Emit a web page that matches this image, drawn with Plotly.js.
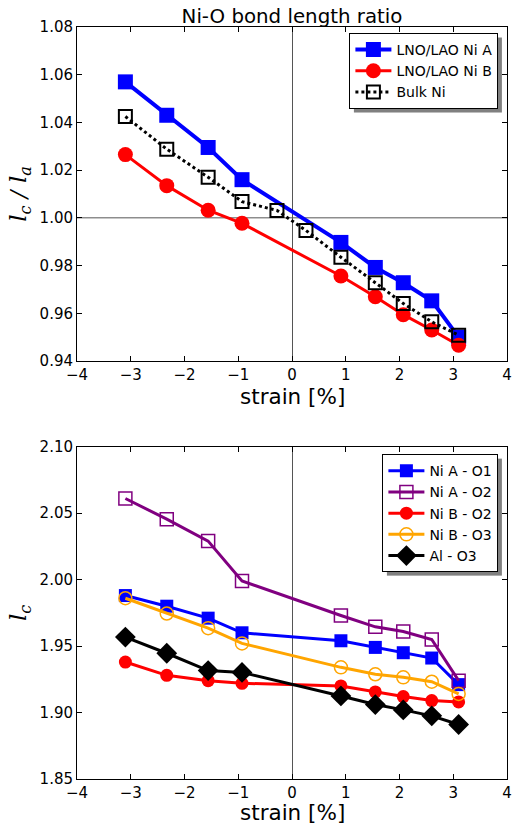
<!DOCTYPE html>
<html>
<head>
<meta charset="utf-8">
<script src="https://cdn.plot.ly/plotly-3.0.1.min.js"></script>
<style>html,body{margin:0;padding:0;background:#fff;}#plot{width:513px;height:823px;}</style>
</head>
<body>
<div id="plot"></div>
<script>
// Top panel data: Ni-O bond length ratio
const strainNi = [-3.1, -2.33, -1.56, -0.93, 0.91, 1.55, 2.07, 2.6, 3.1];
const strainBulk = [-3.1, -2.33, -1.56, -0.93, -0.28, 0.26, 0.91, 1.55, 2.07, 2.6, 3.1];
const ratioNiA = [1.057, 1.043, 1.0295, 1.016, 0.9897, 0.9792, 0.9728, 0.9652, 0.950];
const ratioNiB = [1.0265, 1.0135, 1.0032, 0.9977, 0.9756, 0.9669, 0.9594, 0.953, 0.9466];
const ratioBulk = [1.0425, 1.0288, 1.017, 1.0068, 1.0031, 0.9947, 0.9835, 0.9728, 0.9641, 0.9564, 0.9508];

// Bottom panel data: bond lengths
const niA_O1 = [1.988, 1.980, 1.971, 1.960, 1.954, 1.949, 1.945, 1.941, 1.921];
const niA_O2 = [2.061, 2.0455, 2.029, 1.999, 1.973, 1.9645, 1.961, 1.955, 1.924];
const niB_O2 = [1.938, 1.928, 1.924, 1.922, 1.920, 1.9155, 1.912, 1.909, 1.908];
const niB_O3 = [1.986, 1.9745, 1.9635, 1.952, 1.934, 1.9288, 1.9265, 1.9232, 1.914];
const al_O3 = [1.9568, 1.9446, 1.9316, 1.9302, 1.9125, 1.906, 1.902, 1.8975, 1.891];

const namesTop = ['LNO/LAO Ni A', 'LNO/LAO Ni B', 'Bulk Ni'];
const namesBot = ['Ni A - O1', 'Ni A - O2', 'Ni B - O2', 'Ni B - O3', 'Al - O3'];
const xTitle = 'strain [%]';

const F = 'DejaVu Sans, sans-serif';

const traces = [
  {x: strainNi, y: ratioNiA, name: namesTop[0], xaxis: 'x', yaxis: 'y', legend: 'legend',
   mode: 'lines+markers', line: {color: '#0000ff', width: 4},
   marker: {symbol: 'square', size: 15, color: '#0000ff'}},
  {x: strainNi, y: ratioNiB, name: namesTop[1], xaxis: 'x', yaxis: 'y', legend: 'legend',
   mode: 'lines+markers', line: {color: '#ff0000', width: 3},
   marker: {symbol: 'circle', size: 15, color: '#ff0000'}},
  {x: strainBulk, y: ratioBulk, name: namesTop[2], xaxis: 'x', yaxis: 'y', legend: 'legend',
   mode: 'lines+markers', line: {color: '#000000', width: 3, dash: 'dot'},
   marker: {symbol: 'square-open', size: 13, color: '#000000', line: {width: 2}}},

  {x: strainNi, y: niA_O1, name: namesBot[0], xaxis: 'x2', yaxis: 'y2', legend: 'legend2',
   mode: 'lines+markers', line: {color: '#0000ff', width: 3},
   marker: {symbol: 'square', size: 13, color: '#0000ff'}},
  {x: strainNi, y: niA_O2, name: namesBot[1], xaxis: 'x2', yaxis: 'y2', legend: 'legend2',
   mode: 'lines+markers', line: {color: '#800080', width: 3},
   marker: {symbol: 'square-open', size: 13, color: '#800080', line: {width: 1.5}}},
  {x: strainNi, y: niB_O2, name: namesBot[2], xaxis: 'x2', yaxis: 'y2', legend: 'legend2',
   mode: 'lines+markers', line: {color: '#ff0000', width: 3},
   marker: {symbol: 'circle', size: 13, color: '#ff0000'}},
  {x: strainNi, y: niB_O3, name: namesBot[3], xaxis: 'x2', yaxis: 'y2', legend: 'legend2',
   mode: 'lines+markers', line: {color: '#ffa500', width: 3},
   marker: {symbol: 'circle-open', size: 13, color: '#ffa500', line: {width: 1.5}}},
  {x: strainNi, y: al_O3, name: namesBot[4], xaxis: 'x2', yaxis: 'y2', legend: 'legend2',
   mode: 'lines+markers', line: {color: '#000000', width: 3},
   marker: {symbol: 'diamond', size: 16, color: '#000000'}}
];

const xax = (anchor) => ({
  domain: [0, 1], anchor: anchor, range: [-4, 4], dtick: 1, tick0: 0,
  ticks: 'inside', ticklen: 5, tickcolor: '#000', mirror: 'allticks',
  showline: true, linecolor: '#000', linewidth: 1, showgrid: false,
  zeroline: true, zerolinecolor: '#555', zerolinewidth: 1,
  tickfont: {family: F, size: 15, color: '#000'}
});

const yTitleFont = {family: 'DejaVu Serif, serif', size: 23, color: '#000'};
const TOPDOM = [0.5559, 1], BOTDOM = [0, 0.4419];

const layout = {
  width: 513, height: 823,
  margin: {l: 77, r: 6, t: 27, b: 44},
  paper_bgcolor: '#fff', plot_bgcolor: '#fff',
  font: {family: F, color: '#000'},
  title: {text: 'Ni-O bond length ratio', font: {family: F, size: 19.8, color: '#000'},
          xref: 'paper', x: 0.5, xanchor: 'center', yref: 'container', y: 0.981, yanchor: 'middle'},
  xaxis: xax('y'),
  xaxis2: xax('y2'),
  yaxis: {
    domain: TOPDOM, anchor: 'x', range: [0.94, 1.08], dtick: 0.02, tick0: 0.94, tickformat: '.2f',
    ticks: 'inside', ticklen: 5, tickcolor: '#000', mirror: 'allticks',
    showline: true, linecolor: '#000', linewidth: 1, showgrid: false, zeroline: false,
    tickfont: {family: F, size: 15, color: '#000'},
    title: {text: '<i>l<sub>c</sub> / l<sub>a</sub></i>', font: yTitleFont, standoff: 6}
  },
  yaxis2: {
    domain: BOTDOM, anchor: 'x2', range: [1.85, 2.10], dtick: 0.05, tick0: 1.85, tickformat: '.2f',
    ticks: 'inside', ticklen: 5, tickcolor: '#000', mirror: 'allticks',
    showline: true, linecolor: '#000', linewidth: 1, showgrid: false, zeroline: false,
    tickfont: {family: F, size: 15, color: '#000'},
    title: {text: '<i>l<sub>c</sub></i>', font: yTitleFont, standoff: 6}
  },
  annotations: [
    {text: xTitle, xref: 'paper', yref: 'paper', x: 0.5, y: TOPDOM[0], xanchor: 'center', yanchor: 'middle',
     yshift: -35.5, showarrow: false, font: {family: F, size: 21.5, color: '#000'}},
    {text: xTitle, xref: 'paper', yref: 'paper', x: 0.5, y: BOTDOM[0], xanchor: 'center', yanchor: 'middle',
     yshift: -33, showarrow: false, font: {family: F, size: 21.5, color: '#000'}}
  ],
  shapes: [
    {type: 'line', xref: 'x domain', yref: 'y', x0: 0, x1: 1, y0: 1, y1: 1,
     line: {color: '#555', width: 1}, layer: 'below'}
  ],
  legend: {
    x: 0.98, y: 0.992, xanchor: 'right', yanchor: 'top', xref: 'paper', yref: 'paper',
    bgcolor: '#fff', bordercolor: '#000', borderwidth: 1,
    font: {family: F, size: 14, color: '#000'}, tracegroupgap: 0, itemwidth: 36
  },
  legend2: {
    x: 0.98, y: 0.432, xanchor: 'right', yanchor: 'top', xref: 'paper', yref: 'paper',
    bgcolor: '#fff', bordercolor: '#000', borderwidth: 1,
    font: {family: F, size: 14, color: '#000'}, tracegroupgap: 0, itemwidth: 36
  },
  showlegend: true
};

const SVGNS = 'http://www.w3.org/2000/svg';
function addShadows(gd) {
  // matplotlib-like drop shadow behind each legend box: a gray rect copy offset down-right
  gd.querySelectorAll('rect.bg').forEach(function (bg) {
    if (bg.closest('.annotation')) return;
    const par = bg.parentNode;
    if (!par) return;
    const w = parseFloat(bg.getAttribute('width')), h = parseFloat(bg.getAttribute('height'));
    if (!(w > 0 && h > 0)) return;
    let s = par.querySelector(':scope > rect.legshadow');
    if (!s) {
      s = document.createElementNS(SVGNS, 'rect');
      s.setAttribute('class', 'legshadow');
      par.insertBefore(s, bg);
    }
    const x = parseFloat(bg.getAttribute('x')) || 0, y = parseFloat(bg.getAttribute('y')) || 0;
    s.setAttribute('x', x + 4); s.setAttribute('y', y + 4);
    s.setAttribute('width', w); s.setAttribute('height', h);
    const tr = bg.getAttribute('transform'); if (tr) s.setAttribute('transform', tr);
    s.setAttribute('fill', '#808080');
    s.setAttribute('style', 'fill:#808080;stroke:none;');
  });
}

Plotly.newPlot('plot', traces, layout, {displayModeBar: false, staticPlot: true}).then(function (gd) {
  addShadows(gd);
  [30, 150, 400, 900].forEach(function (t) { setTimeout(function () { addShadows(gd); }, t); });
});
</script>
</body>
</html>
